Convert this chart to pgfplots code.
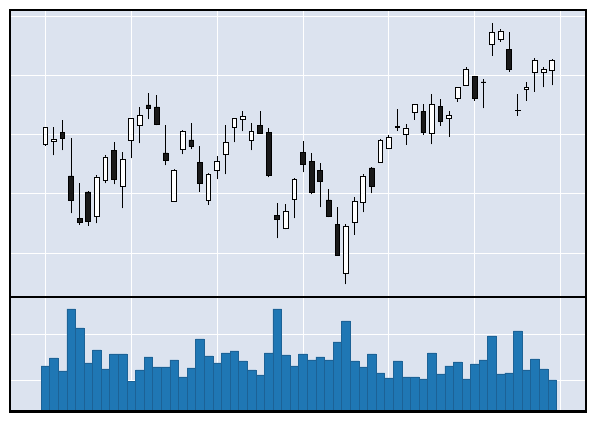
\documentclass[border=0pt]{standalone}
\usepackage{pgfplots}
\usepackage{pgfplotstable}
\pgfplotsset{compat=1.18}
\definecolor{bgcol}{HTML}{DCE3EF}
\definecolor{volcol}{HTML}{1F77B4}
\definecolor{voledge}{RGB}{28,98,150}

\pgfplotstableread{
x o h l c
0 155.3 173.0 154.0 173.0
1 158.7 173.3 144.7 161.0
2 167.7 179.7 149.7 161.3
3 124.0 161.7 86.7 99.3
4 81.7 116.7 75.3 77.3
5 108.0 108.7 74.3 78.3
6 83.3 125.0 76.7 123.0
7 119.7 145.0 116.7 143.0
8 149.7 157.7 115.7 120.3
9 113.3 147.7 91.7 140.7
10 159.3 182.0 141.7 182.0
11 174.3 193.3 156.7 184.7
12 195.0 206.7 180.7 191.3
13 193.0 205.3 174.7 176.0
14 147.0 175.3 134.7 139.3
15 98.7 131.3 98.7 130.0
16 150.7 169.7 145.7 169.0
17 160.0 176.7 150.7 153.3
18 137.7 153.7 108.3 116.3
19 99.3 126.7 95.0 126.0
20 129.7 143.7 120.7 138.3
21 145.7 174.7 125.7 157.7
22 172.7 182.3 157.7 182.0
23 180.7 188.7 168.7 183.7
24 159.7 176.7 149.7 168.7
25 174.7 188.7 166.3 166.3
26 167.7 172.3 122.7 124.3
27 84.7 96.7 61.7 80.7
28 71.3 95.7 70.7 88.7
29 100.7 122.3 81.7 120.7
30 147.7 159.3 127.7 135.7
31 138.7 147.3 105.7 107.3
32 129.7 136.7 92.7 118.3
33 100.0 110.7 82.7 83.3
34 75.7 93.3 44.0 45.0
35 26.7 76.3 15.7 73.7
36 77.7 102.7 65.0 98.7
37 97.7 126.0 87.7 124.0
38 132.0 132.7 106.7 113.3
39 137.7 160.5 137.7 159.7
40 151.7 165.3 150.7 162.3
41 173.7 190.7 169.3 173.0
42 165.7 175.7 155.0 172.0
43 187.7 195.7 180.0 195.7
44 188.7 195.7 165.3 167.3
45 166.7 206.3 155.7 195.7
46 193.7 201.3 174.0 179.0
47 182.0 189.3 163.0 184.7
48 201.3 213.3 198.0 212.7
49 214.7 233.3 214.0 230.7
50 223.7 223.7 199.0 201.3
51 218.0 220.5 191.7 217.5
52 255.7 276.7 244.0 267.7
53 260.7 270.7 258.0 269.0
54 250.7 267.7 228.3 230.3
55 189.8 206.3 184.0 189.2
56 210.3 217.7 199.3 212.7
57 227.7 242.3 208.0 239.7
58 227.7 232.7 212.7 230.7
59 229.7 240.7 214.7 239.7
}\candles

\pgfplotstableread{
x v
0 45.5
1 53.5
2 40.5
3 102.5
4 83.5
5 48.5
6 61.5
7 42.5
8 57.5
9 57.5
10 29.8
11 41.5
12 54.5
13 44.5
14 44.5
15 51.5
16 34.5
17 43.5
18 72.5
19 55.5
20 48.5
21 58.5
22 60.5
23 50.5
24 41.5
25 36.5
26 58.5
27 102.5
28 56.5
29 45.5
30 57.5
31 51.5
32 54.5
33 51.5
34 69.5
35 90.5
36 50.5
37 44.5
38 57.5
39 38.5
40 33.5
41 50.5
42 34.5
43 34.5
44 32.5
45 58.5
46 37.5
47 45.5
48 49.5
49 32.5
50 47.5
51 51.5
52 75.5
53 37.5
54 38.5
55 80.5
56 41.5
57 52.5
58 42.5
59 31.5
}\volume

\pgfplotsset{
  panel/.style={
    scale only axis,
    anchor=south west,
    width=576bp,
    xmin=-4.11, xmax=62.94,
    xtick={0,10,...,60},
    xticklabels={}, yticklabels={},
    major tick length=0pt,
    tick style={draw=none},
    axis line style={draw=none},
    grid=major,
    grid style={white, line width=1bp},
    axis background/.style={fill=bgcol},
    after end axis/.code={\draw[black, line width=2bp] (rel axis cs:0,0) rectangle (rel axis cs:1,1);},
  },
  toppanel/.style={
    at={(10bp,125bp)},
    height=287bp,
    ymin=3, ymax=290,
    ytick={46.7,106,165.3,224.6,283.9},
  },
}

\begin{document}
\begin{tikzpicture}
\useasboundingbox (0,0) rectangle (595bp,422bp);

% price panel: background, grid, wicks
\begin{axis}[panel, toppanel]
\addplot[only marks, mark=*, mark size=0pt, mark options={draw=none, fill=none},
  error bars/.cd, y dir=plus, y explicit, error mark=none,
  error bar style={draw=black, line width=1bp}]
  table[x=x, y=l, y error expr={\thisrow{h}-\thisrow{l}}] {\candles};
\end{axis}

% price panel: candle bodies
\begin{axis}[toppanel, scale only axis, anchor=south west, width=576bp,
  xmin=-4.11, xmax=62.94, hide axis,
  ybar stacked, bar width=0.55]
\addplot[draw=none, fill=none]
  table[x=x, y expr={min(\thisrow{o},\thisrow{c})}] {\candles};
\addplot[fill=white, draw=black, line width=0.8bp]
  table[x=x, y expr={max(\thisrow{c}-\thisrow{o},0)}] {\candles};
\addplot[fill=black!90, draw=black, line width=0.8bp]
  table[x=x, y expr={max(\thisrow{o}-\thisrow{c},0)}] {\candles};
\end{axis}

% volume panel
\begin{axis}[panel,
  at={(10bp,10.5bp)},
  height=114.5bp,
  ymin=0, ymax=114.5,
  ytick={31.2,77.2},
  ybar, bar width=1, bar shift=0pt]
\addplot[fill=volcol, draw=voledge, line width=0.5bp]
  table[x=x, y=v] {\volume};
\end{axis}
\end{tikzpicture}
\end{document}
